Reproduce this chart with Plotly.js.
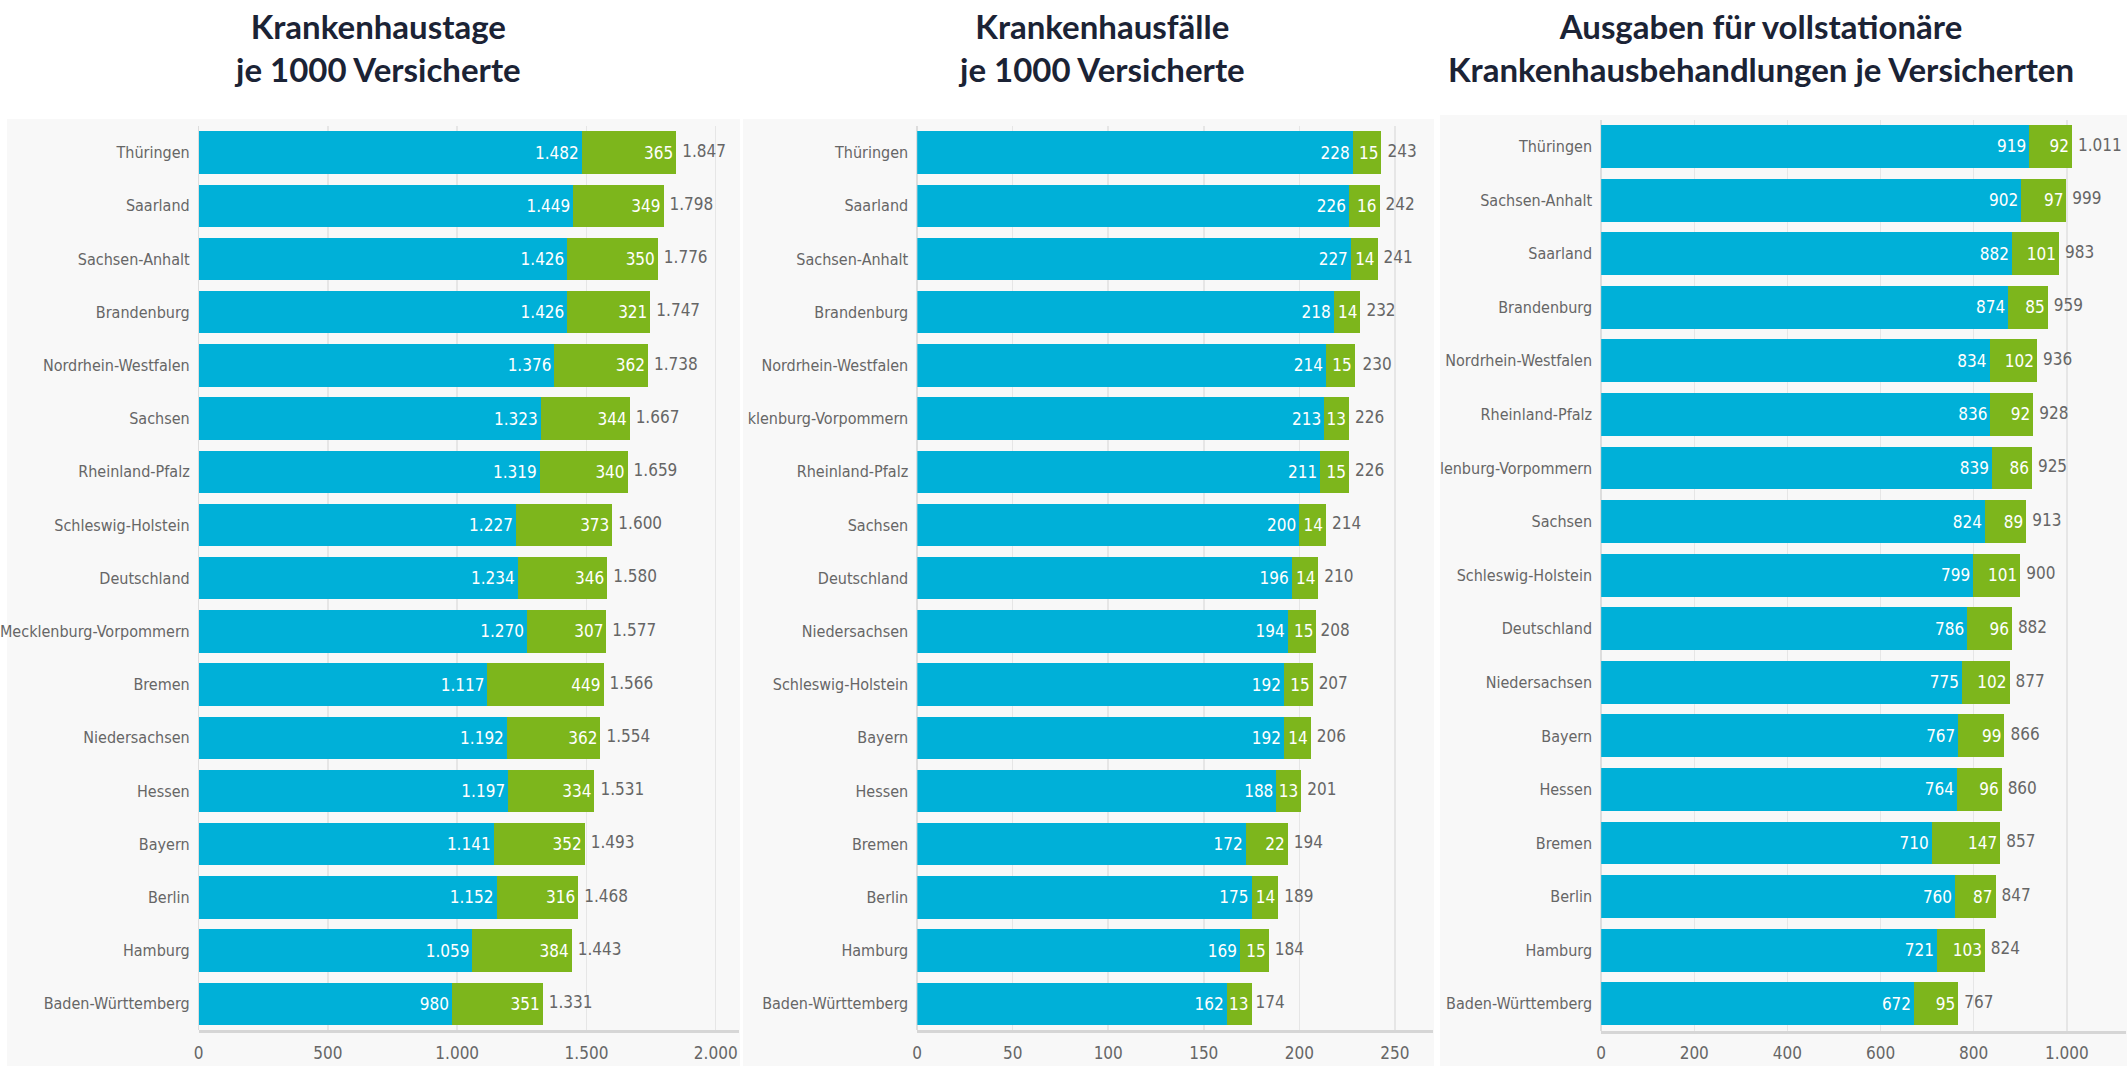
<!DOCTYPE html>
<html>
<head>
<meta charset="utf-8">
<script src="https://cdn.plot.ly/plotly-3.0.1.min.js"></script>
<style>html,body{margin:0;padding:0;background:#fff;}#chart{width:2127px;height:1066px;}</style>
</head>
<body>
<div id="chart"></div>
<script>
// ---- Panel 1: Krankenhaustage je 1000 Versicherte ----
var cats1 = ["Thüringen","Saarland","Sachsen-Anhalt","Brandenburg","Nordrhein-Westfalen","Sachsen","Rheinland-Pfalz","Schleswig-Holstein","Deutschland","Mecklenburg-Vorpommern","Bremen","Niedersachsen","Hessen","Bayern","Berlin","Hamburg","Baden-Württemberg"];
var labels1 = cats1.slice();
var blue1 = [1482,1449,1426,1426,1376,1323,1319,1227,1234,1270,1117,1192,1197,1141,1152,1059,980];
var green1 = [365,349,350,321,362,344,340,373,346,307,449,362,334,352,316,384,351];
var total1 = [1847,1798,1776,1747,1738,1667,1659,1600,1580,1577,1566,1554,1531,1493,1468,1443,1331];

// ---- Panel 2: Krankenhausfälle je 1000 Versicherte ----
var cats2 = ["Thüringen","Saarland","Sachsen-Anhalt","Brandenburg","Nordrhein-Westfalen","Mecklenburg-Vorpommern","Rheinland-Pfalz","Sachsen","Deutschland","Niedersachsen","Schleswig-Holstein","Bayern","Hessen","Bremen","Berlin","Hamburg","Baden-Württemberg"];
var labels2 = ["Thüringen","Saarland","Sachsen-Anhalt","Brandenburg","Nordrhein-Westfalen","klenburg-Vorpommern","Rheinland-Pfalz","Sachsen","Deutschland","Niedersachsen","Schleswig-Holstein","Bayern","Hessen","Bremen","Berlin","Hamburg","Baden-Württemberg"];
var blue2 = [228,226,227,218,214,213,211,200,196,194,192,192,188,172,175,169,162];
var green2 = [15,16,14,14,15,13,15,14,14,15,15,14,13,22,14,15,13];
var total2 = [243,242,241,232,230,226,226,214,210,208,207,206,201,194,189,184,174];

// ---- Panel 3: Ausgaben je Versicherten ----
var cats3 = ["Thüringen","Sachsen-Anhalt","Saarland","Brandenburg","Nordrhein-Westfalen","Rheinland-Pfalz","Mecklenburg-Vorpommern","Sachsen","Schleswig-Holstein","Deutschland","Niedersachsen","Bayern","Hessen","Bremen","Berlin","Hamburg","Baden-Württemberg"];
var labels3 = ["Thüringen","Sachsen-Anhalt","Saarland","Brandenburg","Nordrhein-Westfalen","Rheinland-Pfalz","lenburg-Vorpommern","Sachsen","Schleswig-Holstein","Deutschland","Niedersachsen","Bayern","Hessen","Bremen","Berlin","Hamburg","Baden-Württemberg"];
var blue3 = [919,902,882,874,834,836,839,824,799,786,775,767,764,710,760,721,672];
var green3 = [92,97,101,85,102,92,86,89,101,96,102,99,96,147,87,103,95];
var total3 = [1011,999,983,959,936,928,925,913,900,882,877,866,860,857,847,824,767];

var titles = ["Krankenhaustage<br>je 1000 Versicherte",
              "Krankenhausfälle<br>je 1000 Versicherte",
              "Ausgaben für vollstationäre<br>Krankenhausbehandlungen je Versicherten"];
var xTicks1 = [0,500,1000,1500,2000];
var xTicks2 = [0,50,100,150,200,250];
var xTicks3 = [0,200,400,600,800,1000];

var BLUE = "#00b0d8", GREEN = "#7db61c";
var LFONT = "'DejaVu Sans Condensed','Liberation Sans Narrow',sans-serif";
var VSIZE = 17, LSIZE = 16;
var W = 2127, H = 1066;

function panel(cats, blue, green, total, n) {
  var xa = n === 1 ? "x" : "x" + n, ya = n === 1 ? "y" : "y" + n;
  return [
    {type:"bar", orientation:"h", x:blue, y:cats, xaxis:xa, yaxis:ya, marker:{color:BLUE},
     texttemplate:"%{x:,}", textposition:"inside", insidetextanchor:"end", textangle:0,
     textfont:{color:"#ffffff", size:VSIZE, family:LFONT}, hoverinfo:"x+y", showlegend:false},
    {type:"bar", orientation:"h", x:green, y:cats, xaxis:xa, yaxis:ya, marker:{color:GREEN},
     texttemplate:"%{x:,}", textposition:"inside", insidetextanchor:"end", textangle:0,
     textfont:{color:"#ffffff", size:VSIZE, family:LFONT}, hoverinfo:"x+y", showlegend:false},
    {type:"scatter", mode:"markers+text", x:total, y:cats, xaxis:xa, yaxis:ya,
     marker:{size:8, color:"rgba(0,0,0,0)"},
     texttemplate:"%{x:,}", textposition:"middle right", cliponaxis:false,
     textfont:{color:"#666666", size:VSIZE, family:LFONT}, hoverinfo:"skip", showlegend:false}
  ];
}

var data = [].concat(panel(cats1, blue1, green1, total1, 1),
                     panel(cats2, blue2, green2, total2, 2),
                     panel(cats3, blue3, green3, total3, 3));

function px(v){ return v / W; }
function py(v){ return 1 - v / H; }

function xaxis(x0, x1, maxv, ticks, anchor) {
  return {domain:[px(x0), px(x1)], range:[0, maxv], anchor:anchor, fixedrange:true,
    tickvals:ticks, tickformat:",", showgrid:true, gridcolor:"#e6e6e6", gridwidth:1.5,
    zeroline:true, zerolinecolor:"#dddddd", zerolinewidth:1.5,
    showline:true, linecolor:"#d6d6d6", linewidth:3, ticks:"", ticklabelstandoff:5,
    tickfont:{size:VSIZE, color:"#666666", family:LFONT}};
}
function yaxis(top, bottom, cats, labels, anchor) {
  return {domain:[py(bottom), py(top)], type:"category", categoryorder:"array", categoryarray:cats,
    range:[cats.length - 0.5, -0.5], autorange:false, anchor:anchor, fixedrange:true,
    tickvals:cats, ticktext:labels,
    showgrid:false, zeroline:false, showline:false, ticks:"", ticklabelstandoff:8,
    tickfont:{size:LSIZE, color:"#666666", family:LFONT}};
}

var TFONT = {family:"Lato, 'Open Sans', sans-serif", size:33, color:"#1b2335", weight:700};

var layout = {
  width:W, height:H, margin:{l:0,r:0,t:0,b:0},
  paper_bgcolor:"#ffffff", plot_bgcolor:"rgba(0,0,0,0)",
  separators:",.", barmode:"stack", bargap:0.2,
  uniformtext:{mode:"show", minsize:VSIZE},
  xaxis: xaxis(198.7, 739, 2090, xTicks1, "y"),
  yaxis: yaxis(126, 1030.4, cats1, labels1, "x"),
  xaxis2: xaxis(917.2, 1433, 270, xTicks2, "y2"),
  yaxis2: yaxis(126, 1030.4, cats2, labels2, "x2"),
  xaxis3: xaxis(1601.1, 2126, 1127, xTicks3, "y3"),
  yaxis3: yaxis(119.7, 1030.6, cats3, labels3, "x3"),
  shapes: [
    {type:"rect", xref:"paper", yref:"paper", x0:px(7), x1:px(740), y0:0, y1:py(119), fillcolor:"#f8f8f8", line:{width:0}, layer:"below"},
    {type:"rect", xref:"paper", yref:"paper", x0:px(743), x1:px(1434), y0:0, y1:py(119), fillcolor:"#f8f8f8", line:{width:0}, layer:"below"},
    {type:"rect", xref:"paper", yref:"paper", x0:px(1440), x1:px(2127), y0:0, y1:py(115), fillcolor:"#f8f8f8", line:{width:0}, layer:"below"}
  ],
  annotations: [
    {text:titles[0], xref:"paper", yref:"paper", x:px(377), y:py(47), xanchor:"center", yanchor:"middle", showarrow:false, font:TFONT},
    {text:titles[1], xref:"paper", yref:"paper", x:px(1101), y:py(47), xanchor:"center", yanchor:"middle", showarrow:false, font:TFONT},
    {text:titles[2], xref:"paper", yref:"paper", x:px(1761), y:py(47), xanchor:"center", yanchor:"middle", showarrow:false, font:TFONT}
  ]
};

Plotly.newPlot("chart", data, layout, {displayModeBar:false, staticPlot:true});
</script>
</body>
</html>
